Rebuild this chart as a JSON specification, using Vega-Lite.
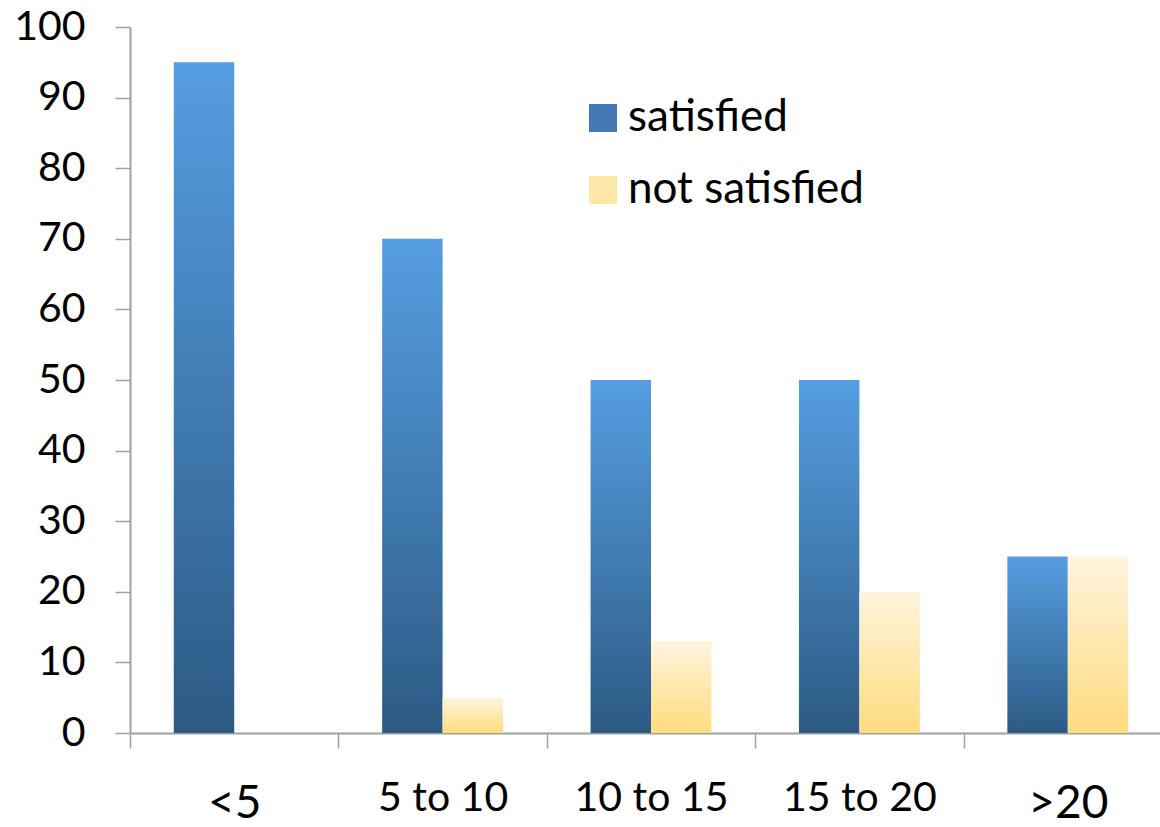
{
  "$schema": "https://vega.github.io/schema/vega-lite/v6.json",
  "width": 1042,
  "height": 706,
  "autosize": {"type": "none"},
  "padding": {"left": 130, "top": 27, "right": 0, "bottom": 94},
  "background": "white",
  "data": {
    "values": [
      {"years": "<5", "status": "satisfied", "value": 95},
      {"years": "<5", "status": "not satisfied", "value": 0},
      {"years": "5 to 10", "status": "satisfied", "value": 70},
      {"years": "5 to 10", "status": "not satisfied", "value": 5},
      {"years": "10 to 15", "status": "satisfied", "value": 50},
      {"years": "10 to 15", "status": "not satisfied", "value": 13},
      {"years": "15 to 20", "status": "satisfied", "value": 50},
      {"years": "15 to 20", "status": "not satisfied", "value": 20},
      {"years": ">20", "status": "satisfied", "value": 25},
      {"years": ">20", "status": "not satisfied", "value": 25}
    ]
  },
  "encoding": {
    "x": {
      "field": "years",
      "type": "nominal",
      "sort": ["<5", "5 to 10", "10 to 15", "15 to 20", ">20"],
      "scale": {"paddingInner": 0.42, "paddingOuter": 0.21},
      "axis": {
        "title": null,
        "labelAngle": 0,
        "tickOffset": -104.2,
        "labelOffset": 104.2,
        "tickSize": 15,
        "tickColor": "#a0a0a0",
        "tickWidth": 1.5,
        "domainColor": "#a0a0a0",
        "domainWidth": 2,
        "labelFont": "Lato",
        "labelColor": "#000000",
        "labelBaseline": "alphabetic",
        "labelFontSize": {"condition": {"test": "datum.value == '<5' || datum.value == '>20'", "value": 46}, "value": 41},
        "labelPadding": {"condition": {"test": "datum.value == '<5' || datum.value == '>20'", "value": 69}, "value": 62}
      }
    },
    "xOffset": {
      "field": "status",
      "sort": ["satisfied", "not satisfied"],
      "scale": {"paddingInner": 0, "paddingOuter": 0}
    },
    "y": {
      "field": "value",
      "type": "quantitative",
      "scale": {"domain": [0, 100], "nice": false},
      "axis": {
        "title": null,
        "values": [0, 10, 20, 30, 40, 50, 60, 70, 80, 90, 100],
        "grid": false,
        "tickSize": 15,
        "tickColor": "#a0a0a0",
        "tickWidth": 1.5,
        "domainColor": "#a0a0a0",
        "domainWidth": 2,
        "labelFont": "Lato",
        "labelColor": "#000000",
        "labelFontSize": 41,
        "labelPadding": 30
      }
    }
  },
  "layer": [
    {
      "mark": {"type": "bar", "opacity": 0},
      "encoding": {
        "color": {
          "field": "status",
          "type": "nominal",
          "sort": ["satisfied", "not satisfied"],
          "scale": {
            "domain": ["satisfied", "not satisfied"],
            "range": ["#4279b4", "#ffe7a8"]
          },
          "legend": {
            "title": null,
            "orient": "none",
            "legendX": 451,
            "legendY": 69,
            "symbolType": "square",
            "symbolSize": 784,
            "symbolOpacity": 1,
            "symbolStrokeWidth": 0,
            "labelFont": "Lato",
            "labelFontSize": 44,
            "labelColor": "#000000",
            "labelOffset": 3,
            "rowPadding": 28,
            "labelLimit": 400
          }
        }
      }
    },
    {
      "mark": {"type": "bar"},
      "encoding": {
        "fill": {
          "condition": {
            "test": "datum.status == 'satisfied'",
            "value": {"gradient": "linear", "x1": 0, "y1": 0, "x2": 0, "y2": 1, "stops": [{"offset": 0, "color": "#559ee1"}, {"offset": 1, "color": "#2d5a84"}]}
          },
          "value": {"gradient": "linear", "x1": 0, "y1": 0, "x2": 0, "y2": 1, "stops": [{"offset": 0, "color": "#fff4de"}, {"offset": 1, "color": "#ffdc7e"}]}
        }
      }
    }
  ],
  "config": {"view": {"stroke": null}}
}
